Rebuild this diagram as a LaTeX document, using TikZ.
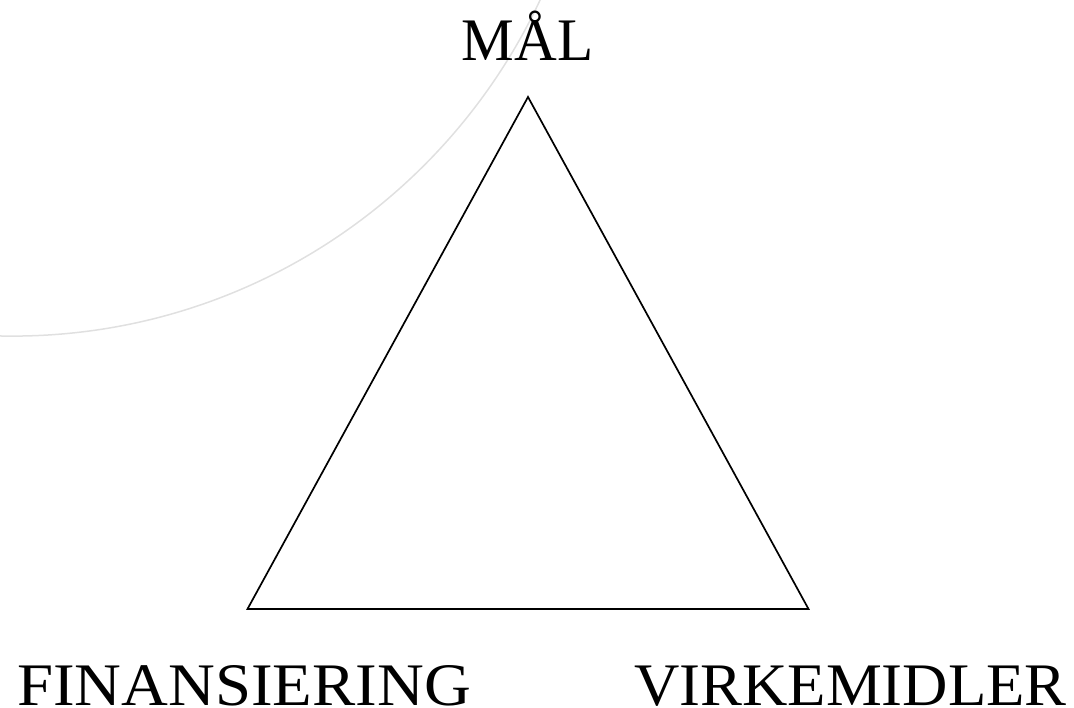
\documentclass[tikz,border=0pt]{standalone}
\usepackage{fontspec}
\setmainfont{Liberation Serif}
\definecolor{arcgrey}{HTML}{E0E0E0}
\begin{document}
\begin{tikzpicture}[x=1pt,y=-1pt,
  label/.style={inner sep=0pt,font=\fontsize{60.4}{62}\selectfont},
  edge/.style={draw=black,line width=1.7pt,line join=miter},
  arcline/.style={draw=arcgrey,line width=1.5pt}]
\useasboundingbox (0,0) rectangle (1074,708);
\begin{scope}
\clip (0,0) rectangle (1074,708);
\draw[arcline] (12,-246.6) circle[radius=582.7];
\end{scope}
\coordinate (top) at (528,97);
\coordinate (bl) at (247.5,609);
\coordinate (br) at (808.5,609);
\draw[edge] (top) -- (bl) -- (br) -- cycle;
\node[label,anchor=base] (mal) at (527.5,61) {\scalebox{0.98}[1]{MÅL}};
\node[label,anchor=base west] (fin) at (17,705) {\scalebox{1.073}[1]{FINANSIERING}};
\node[label,anchor=base east] (virk) at (1067,705) {\scalebox{1.04}[1]{VIRKEMIDLER}};
\end{tikzpicture}
\end{document}
